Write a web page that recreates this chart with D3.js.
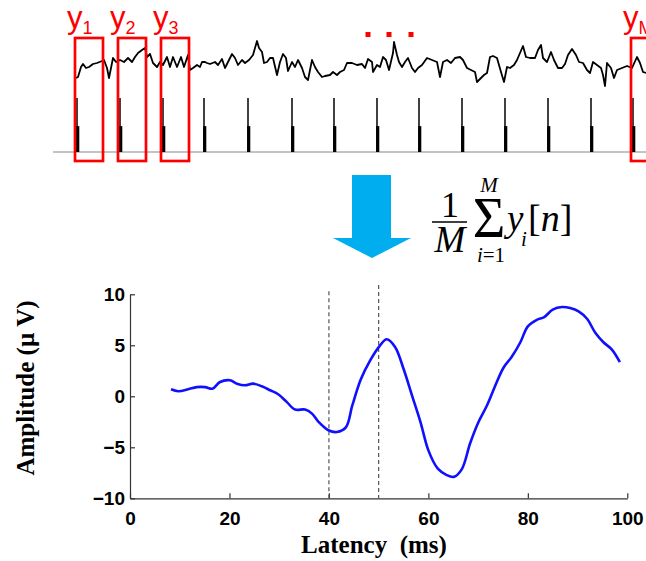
<!DOCTYPE html>
<html>
<head>
<meta charset="utf-8">
<script src="https://cdn.jsdelivr.net/npm/d3@7"></script>
<style>
  body { margin: 0; background: #fff; }
  svg { display: block; }
  .tick text { font-family: "Liberation Sans", Arial, sans-serif; font-weight: bold; font-size: 19px; fill: #000; }
  .axis-label { font-family: "Liberation Serif", "Times New Roman", serif; font-weight: bold; font-size: 25px; }
  .eq { font-family: "Liberation Serif", "Times New Roman", serif; fill: #000; }
  .epoch { font-family: "Liberation Sans", Arial, sans-serif; fill: #f00; }
</style>
</head>
<body>
<div id="chart"></div>
<script>
// ---------- averaged response (bottom chart) ----------
const latency = [8.25, 9.7, 11.7, 13.4, 15.1, 16.6, 18.1, 20.1, 21.5, 23.1, 24.8, 26.5, 28.2, 29.8,
  31.5, 33.2, 35.2, 36.6, 37.9, 39.9, 41.6, 43.4, 44.7, 46.4, 48.3, 50.3, 51.6, 53.3, 55.0, 56.7,
  58.4, 60.0, 61.9, 63.6, 65.1, 66.7, 68.4, 70.1, 71.8, 73.4, 75.1, 76.8, 78.5, 80.0, 81.8, 83.3,
  85.0, 86.9, 88.5, 90.2, 91.9, 93.6, 95.2, 96.9, 98.5];
const amplitude = [0.69, 0.5, 0.69, 0.9, 0.9, 0.75, 1.4, 1.57, 1.24, 1.08, 1.24, 0.98, 0.59, 0.2,
  -0.55, -1.3, -1.3, -1.7, -2.5, -3.33, -3.5, -3.05, -0.9, 1.65, 3.53, 5.0, 5.59, 4.84, 2.7, 0.1,
  -2.5, -5.3, -7.1, -7.7, -7.9, -7.16, -4.6, -2.5, -0.88, 0.98, 2.8, 3.9, 5.3, 6.86, 7.5, 7.77,
  8.5, 8.75, 8.65, 8.33, 7.6, 6.2, 5.3, 4.58, 3.36];
const markerLatency = [40, 50];
const markerTop = [10.3, 10.9];
const xTicks = [0, 20, 40, 60, 80, 100];
const yTicks = [-10, -5, 0, 5, 10];

// ---------- raw recording (top strip) ----------
const stimulus = [1, 44, 87, 128, 172, 216, 258, 301, 343, 386, 429, 472, 515, 557];
const traceSample = [0, 2, 5, 7, 10, 13, 17, 21, 26, 28, 31, 33, 36, 37, 40, 44, 48, 52, 56, 59, 62, 66,
  69, 71, 74, 77, 81, 84, 87, 91, 94, 97, 101, 105, 108, 112, 114, 117, 121, 124, 126, 129, 131, 134,
  139, 142, 146, 149, 152, 156, 159, 162, 166, 169, 173, 177, 181, 183, 186, 188, 191, 194, 197, 201,
  204, 207, 210, 212, 216, 219, 222, 226, 229, 232, 236, 239, 242, 246, 249, 254, 257, 261, 264, 268,
  271, 276, 281, 286, 289, 292, 296, 297, 301, 304, 307, 310, 313, 317, 318, 321, 323, 326, 329, 332,
  336, 339, 342, 346, 351, 356, 361, 364, 367, 371, 375, 379, 384, 387, 391, 395, 399, 401, 405, 408,
  411, 414, 417, 421, 425, 428, 431, 434, 438, 441, 444, 447, 450, 454, 459, 462, 465, 467, 471, 475,
  478, 482, 486, 489, 492, 496, 500, 503, 507, 511, 514, 517, 521, 525, 527, 529, 531, 535, 538, 541,
  546, 551, 556, 561, 564, 567, 570];
const traceValue = [-8, -7, 3, 6, 2, 3, 6, 7, 9, 10, 2, -8, 7, 12, 8, 10, 8, 12, 8, 13, 17, 20,
  22, 13, 16, 7, 3, 8, 5, 13, 3, 13, 3, 13, 3, 15, 0, 2, 5, 3, 8, 8, 7, 6,
  8, 5, 11, 2, 8, 16, 12, 5, 10, 7, 10, 15, 29, 22, 18, 7, 8, 12, 12, -5,
  8, 16, 12, -1, 8, 3, 10, 2, -7, -10, 10, 3, -2, -7, -6, -5, -2, -5, -2, 0,
  7, 7, 5, 6, 2, 11, 8, -2, 5, 3, 13, 10, 0, 17, 28, 15, 8, 3, 8, 12,
  2, -2, 2, 5, 12, 10, 8, -7, 8, 10, 7, 12, 13, 10, 2, 0, -2, -12, -8, -5,
  -3, 13, 14, 12, -2, -12, 3, 2, 5, 10, 17, 24, 13, 12, 12, 20, 25, 12, 8, 18,
  10, 2, 2, 6, 15, 21, 15, 8, 7, 0, -3, 8, 5, 2, -5, -16, 7, 2, -8, 0,
  2, 4, 2, 13, 7, -2, -3];
const epochIndex = [0, 1, 2, 13];
const epochLabels = ["1", "2", "3", "M"];
const ellipsisSamples = [292, 313, 335];

const width = 646, height = 561;

const svg = d3.select("#chart").append("svg")
  .attr("width", width).attr("height", height)
  .attr("viewBox", `0 0 ${width} ${height}`);

// ========== TOP STRIP ==========
const xTop = d3.scaleLinear().domain([0, 570]).range([76, 646]);
const yTrace = d3.scaleLinear().domain([-20, 30]).range([90, 40]);
const ySpike = d3.scaleLinear().domain([0, 1]).range([152, 98]);

// baseline
svg.append("line")
  .attr("x1", 53).attr("x2", width)
  .attr("y1", ySpike(0)).attr("y2", ySpike(0))
  .attr("stroke", "#888").attr("stroke-width", 1.2);

// stimulus spikes: thin full-height line + thick lower half
svg.append("g").selectAll("line.thin").data(stimulus).join("line")
  .attr("x1", d => xTop(d)).attr("x2", d => xTop(d))
  .attr("y1", ySpike(0)).attr("y2", ySpike(1))
  .attr("stroke", "#111").attr("stroke-width", 1.6);
svg.append("g").selectAll("line.thick").data(stimulus).join("line")
  .attr("x1", d => xTop(d) + 0.7).attr("x2", d => xTop(d) + 0.7)
  .attr("y1", ySpike(0)).attr("y2", ySpike(0.48))
  .attr("stroke", "#000").attr("stroke-width", 3.2);

// noisy trace
const traceLine = d3.line()
  .x((d, i) => xTop(traceSample[i]))
  .y(d => yTrace(d));
svg.append("path")
  .attr("d", traceLine(traceValue))
  .attr("fill", "none").attr("stroke", "#000").attr("stroke-width", 1.8)
  .attr("stroke-linejoin", "round");

// epoch boxes
const boxes = svg.append("g");
epochIndex.forEach((e, k) => {
  const s = stimulus[e];
  const x0 = xTop(s - 2), x1 = xTop(s + 26);
  boxes.append("rect")
    .attr("x", x0).attr("y", 38)
    .attr("width", x1 - x0).attr("height", 123)
    .attr("fill", "none").attr("stroke", "#f00").attr("stroke-width", 2.7);
  const t = boxes.append("text").attr("class", "epoch")
    .attr("x", x0 - 8).attr("y", 28);
  t.append("tspan").attr("font-size", 31).text("y");
  t.append("tspan").attr("font-size", 18).attr("dy", 6).text(epochLabels[k]);
});

// ellipsis dots
svg.append("g").selectAll("rect").data(ellipsisSamples).join("rect")
  .attr("x", d => xTop(d) - 2.5).attr("y", 32)
  .attr("width", 5).attr("height", 5)
  .attr("fill", "#f00");

// ========== ARROW + FORMULA ==========
svg.append("polygon")
  .attr("points", "352,175 391,175 391,238 411,238 372,258 333,238 352,238")
  .attr("fill", "#00aeef");

const eq = svg.append("g").attr("class", "eq");
eq.append("text").attr("x", 450).attr("y", 217).attr("text-anchor", "middle")
  .attr("font-size", 36).text("1");
eq.append("line").attr("x1", 432).attr("x2", 467).attr("y1", 222).attr("y2", 222)
  .attr("stroke", "#000").attr("stroke-width", 1.5);
eq.append("text").attr("x", 450).attr("y", 252).attr("text-anchor", "middle")
  .attr("font-size", 37).attr("font-style", "italic").text("M");
eq.append("text").attr("x", 489).attr("y", 237).attr("text-anchor", "middle")
  .attr("font-size", 56).text("Σ");
eq.append("text").attr("x", 489).attr("y", 192).attr("text-anchor", "middle")
  .attr("font-size", 21).attr("font-style", "italic").text("M");
const low = eq.append("text").attr("x", 491).attr("y", 262).attr("text-anchor", "middle")
  .attr("font-size", 21);
low.append("tspan").attr("font-style", "italic").text("i");
low.append("tspan").text("=1");
eq.append("text").attr("x", 507).attr("y", 231)
  .attr("font-size", 37).attr("font-style", "italic").text("y");
eq.append("text").attr("x", 521).attr("y", 246)
  .attr("font-size", 21).attr("font-style", "italic").text("i");
const br = eq.append("text").attr("x", 528).attr("y", 231).attr("font-size", 38);
br.append("tspan").text("[");
br.append("tspan").attr("font-style", "italic").text("n");
br.append("tspan").text("]");

// ========== BOTTOM CHART ==========
const x = d3.scaleLinear().domain([0, 100]).range([130, 627.3]);
const y = d3.scaleLinear().domain([-10, 10]).range([498.3, 294.3]);

const bottomAxis = d3.axisBottom(x).tickValues(xTicks).tickFormat(d3.format("d"))
  .tickSizeInner(-5).tickSizeOuter(0).tickPadding(13);
const leftAxis = d3.axisLeft(y).tickValues(yTicks).tickFormat(d3.format("d"))
  .tickSizeInner(-5).tickSizeOuter(0).tickPadding(5);

const gx = svg.append("g").attr("transform", `translate(0, ${y(-10)})`).call(bottomAxis);
const gy = svg.append("g").attr("transform", `translate(${x(0)}, 0)`).call(leftAxis);
[gx, gy].forEach(g => {
  g.select(".domain").attr("stroke", "#333").attr("stroke-width", 1.2);
  g.selectAll(".tick line").attr("stroke", "#333").attr("stroke-width", 1.2);
});

// dashed latency markers
svg.append("g").selectAll("line").data(markerLatency).join("line")
  .attr("x1", d => x(d)).attr("x2", d => x(d))
  .attr("y1", (d, i) => y(markerTop[i])).attr("y2", y(-10))
  .attr("stroke", "#555").attr("stroke-width", 1.2)
  .attr("stroke-dasharray", "4,3");

// averaged waveform
const avgLine = d3.line()
  .x((d, i) => x(latency[i]))
  .y(d => y(d))
  .curve(d3.curveCatmullRom.alpha(0.5));
svg.append("path")
  .attr("d", avgLine(amplitude))
  .attr("fill", "none").attr("stroke", "#1010ff").attr("stroke-width", 2.6)
  .attr("stroke-linejoin", "round");

// axis labels
svg.append("text").attr("class", "axis-label")
  .attr("text-anchor", "middle")
  .attr("x", 374).attr("y", 553)
  .attr("xml:space", "preserve")
  .text("Latency  (ms)");
svg.append("text").attr("class", "axis-label")
  .attr("text-anchor", "middle")
  .attr("transform", "translate(34, 388) rotate(-90)")
  .attr("xml:space", "preserve")
  .text("Amplitude (µ V)");
</script>
</body>
</html>
